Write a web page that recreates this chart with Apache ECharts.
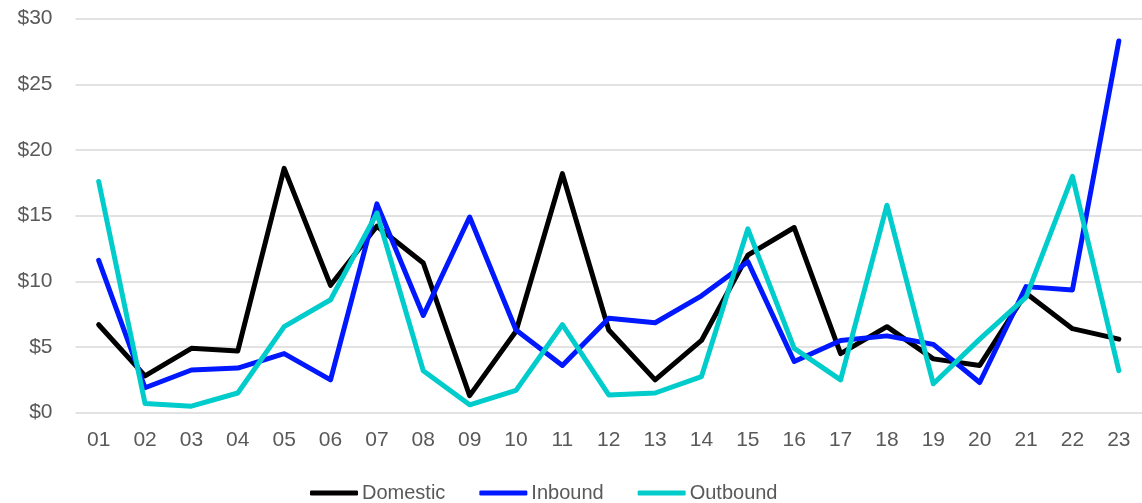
<!DOCTYPE html>
<html>
<head>
<meta charset="utf-8">
<script src="https://cdn.jsdelivr.net/npm/echarts@6/dist/echarts.min.js"></script>
<style>
html,body{margin:0;padding:0;background:#fff;}
#c{width:1142px;height:503px;}
</style>
</head>
<body>
<div id="c"></div>
<script>
const categories = ['01','02','03','04','05','06','07','08','09','10','11','12','13','14','15','16','17','18','19','20','21','22','23'];
const domestic = [6.7,2.8,4.9,4.7,18.6,9.7,14.2,11.4,1.3,6.2,18.2,6.3,2.5,5.5,12.0,14.1,4.5,6.55,4.1,3.6,9.1,6.4,5.6];
const inbound  = [11.6,1.9,3.25,3.4,4.5,2.5,15.9,7.4,14.9,6.3,3.6,7.2,6.85,8.9,11.5,3.9,5.5,5.85,5.2,2.3,9.6,9.35,28.3];
const outbound = [17.6,0.7,0.5,1.5,6.55,8.6,15.2,3.2,0.6,1.7,6.7,1.35,1.5,2.75,14.0,4.9,2.5,15.8,2.2,5.6,8.8,18.0,3.2];
const seriesNames = ['Domestic','Inbound','Outbound'];
const colors = ['#000000','#0018ff','#00cccc'];

const FONT = 'Liberation Sans, Arial, sans-serif';
const chart = echarts.init(document.getElementById('c'));
const mk = (name, data, color) => ({
  name, type:'line', data, symbol:'none', smooth:false,
  lineStyle:{color, width:5, cap:'round', join:'round'},
  itemStyle:{color}
});
chart.setOption({
  animation:false,
  textStyle:{fontFamily:FONT},
  grid:{left:75.5, right:-7, top:18.7, bottom:90.3, containLabel:false},
  xAxis:{
    type:'category', data:categories, boundaryGap:true,
    axisLine:{show:false}, axisTick:{show:false},
    axisLabel:{color:'#595959', fontSize:21, margin:17, fontFamily:FONT}
  },
  yAxis:{
    type:'value', min:0, max:30, interval:5,
    axisLine:{show:false}, axisTick:{show:false},
    axisLabel:{color:'#595959', fontSize:21, margin:23, formatter:v=>'$'+v, fontFamily:FONT},
    splitLine:{lineStyle:{color:'#d9d9d9', width:1.5}}
  },
  legend:{
    top:483, left:310, padding:0, icon:'roundRect', itemWidth:48, itemHeight:5, itemGap:34,
    textStyle:{color:'#595959', fontSize:20, fontFamily:FONT, padding:[0,0,0,-1]},
    data:seriesNames
  },
  series:[
    mk(seriesNames[0], domestic, colors[0]),
    mk(seriesNames[1], inbound, colors[1]),
    mk(seriesNames[2], outbound, colors[2])
  ]
});
</script>
</body>
</html>
